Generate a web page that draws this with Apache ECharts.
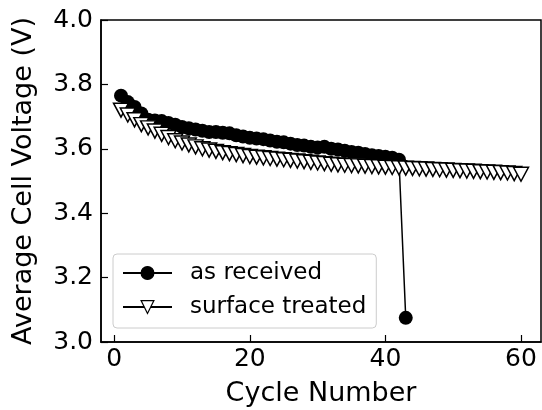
<!DOCTYPE html>
<html>
<head>
<meta charset="utf-8">
<script src="https://cdn.jsdelivr.net/npm/echarts@6/dist/echarts.min.js"></script>
<style>html,body{margin:0;padding:0;background:#fff}#c{width:542px;height:410px}</style>
</head>
<body>
<div id="c"></div>
<script>
const asReceivedCycles = [1,2,3,4,5,6,7,8,9,10,11,12,13,14,15,16,17,18,19,20,21,22,23,24,25,26,27,28,29,30,31,32,33,34,35,36,37,38,39,40,41,42,43];
const asReceivedVoltage = [3.765,3.745,3.730,3.710,3.690,3.688,3.686,3.680,3.675,3.668,3.664,3.660,3.656,3.652,3.652,3.650,3.648,3.642,3.638,3.634,3.632,3.630,3.626,3.622,3.620,3.616,3.612,3.610,3.606,3.604,3.606,3.600,3.598,3.594,3.590,3.588,3.584,3.580,3.578,3.575,3.572,3.566,3.075];
const treatedCycles = [1,2,3,4,5,6,7,8,9,10,11,12,13,14,15,16,17,18,19,20,21,22,23,24,25,26,27,28,29,30,31,32,33,34,35,36,37,38,39,40,41,42,43,44,45,46,47,48,49,50,51,52,53,54,55,56,57,58,59,60];
const treatedVoltage = [3.720,3.705,3.690,3.675,3.665,3.655,3.645,3.635,3.625,3.618,3.612,3.606,3.600,3.596,3.592,3.588,3.585,3.582,3.579,3.576,3.574,3.572,3.570,3.568,3.566,3.564,3.562,3.560,3.558,3.556,3.554,3.552,3.550,3.549,3.548,3.547,3.546,3.545,3.544,3.543,3.542,3.541,3.540,3.539,3.538,3.537,3.536,3.535,3.534,3.533,3.532,3.531,3.530,3.529,3.528,3.527,3.526,3.525,3.523,3.521];
const xTicks = [0,20,40,60];
const yTicks = [3.0,3.2,3.4,3.6,3.8,4.0];
const seriesNames = ['as received','surface treated'];

const FONT = 'DejaVu Sans';
const chart = echarts.init(document.getElementById('c'), null, {renderer:'canvas'});
chart.setOption({
  animation:false,
  backgroundColor:'#fff',
  grid:{left:101, top:20, right:1, bottom:68, outerBoundsMode:'none', containLabel:false, show:true, borderColor:'#000', borderWidth:1.5, backgroundColor:'transparent'},
  legend:{
    orient:'vertical', left:113, top:254,
    padding:[6,10,8,9], itemGap:8,
    itemWidth:49, itemHeight:16,
    itemStyle:{borderWidth:1.2},
    backgroundColor:'rgba(255,255,255,0.8)', borderColor:'#cccccc', borderWidth:1, borderRadius:4,
    textStyle:{fontFamily:FONT, fontSize:23, color:'#000', lineHeight:26, padding:[0,0,0,13]},
    data:seriesNames
  },
  xAxis:{
    type:'value', min:-1.95, max:62.95,
    name:'Cycle Number', nameLocation:'middle', nameGap:38,
    nameTextStyle:{fontFamily:FONT, fontSize:27, color:'#000'},
    axisLine:{show:true, onZero:false, lineStyle:{color:'#000', width:1.5}},
    axisTick:{show:true, inside:true, length:7, lineStyle:{color:'#000', width:1.2}, customValues:xTicks},
    axisLabel:{fontFamily:FONT, fontSize:25, color:'#000', margin:5, customValues:xTicks, formatter:v=>String(v)},
    splitLine:{show:false}
  },
  yAxis:{
    type:'value', min:3.0, max:4.0, interval:0.2,
    name:'Average Cell Voltage (V)', nameLocation:'middle', nameGap:64, nameRotate:90,
    nameTextStyle:{fontFamily:FONT, fontSize:27, color:'#000'},
    axisLine:{show:true, onZero:false, lineStyle:{color:'#000', width:1.5}},
    axisTick:{show:true, inside:true, length:7, lineStyle:{color:'#000', width:1.2}},
    axisLabel:{fontFamily:FONT, fontSize:25, color:'#000', margin:8, formatter:v=>v.toFixed(1)},
    splitLine:{show:false}
  },
  series:[
    {
      name:seriesNames[0], type:'line', z:2,
      data:asReceivedCycles.map((c,i)=>[c,asReceivedVoltage[i]]),
      symbol:'circle', symbolSize:14, showAllSymbol:true,
      lineStyle:{color:'#000', width:1.5},
      itemStyle:{color:'#000', borderColor:'#000', borderWidth:0}
    },
    {
      name:seriesNames[1], type:'line', z:3,
      data:treatedCycles.map((c,i)=>[c,treatedVoltage[i]]),
      symbol:'triangle', symbolRotate:180, symbolSize:[15,14], showAllSymbol:true,
      lineStyle:{color:'#000', width:1.5},
      itemStyle:{color:'#fff', borderColor:'#000', borderWidth:1.5}
    }
  ]
});
</script>
</body>
</html>
